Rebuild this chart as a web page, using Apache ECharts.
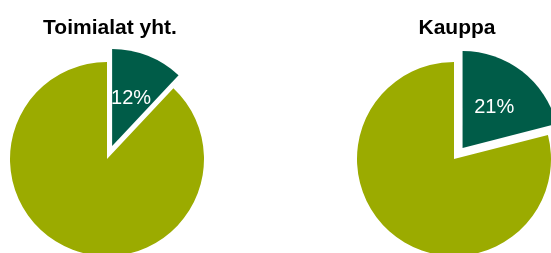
<!DOCTYPE html>
<html>
<head>
<meta charset="utf-8">
<script src="https://cdn.jsdelivr.net/npm/echarts@6/dist/echarts.min.js"></script>
<style>
  html, body { margin: 0; padding: 0; background: #fff; }
  #chart { width: 551px; height: 253px; }
</style>
</head>
<body>
<div id="chart"></div>
<script>
var titles = ["Toimialat yht.", "Kauppa"];
var shares = [12, 21];
var rest = [88, 79];

var darkGreen = "#005c48";
var olive = "#9bab00";
var centers = [[107, 159], [454, 159]];
var titleX = [105, 452];

var chart = echarts.init(document.getElementById("chart"));

var series = titles.map(function (t, i) {
  return {
    type: "pie",
    center: centers[i],
    radius: 97,
    startAngle: 90,
    clockwise: true,
    selectedMode: "single",
    selectedOffset: 14,
    animation: false,
    silent: true,
    label: {
      position: "inside",
      formatter: "{c}%",
      color: "#fff",
      fontSize: 20,
      fontFamily: "Liberation Sans, Arial, sans-serif"
    },
    labelLine: { show: false },
    data: [
      { value: shares[i], selected: true, itemStyle: { color: darkGreen } },
      { value: rest[i], itemStyle: { color: olive }, label: { show: false } }
    ]
  };
});

chart.setOption({
  animation: false,
  title: titles.map(function (t, i) {
    return {
      text: t,
      left: titleX[i],
      top: 13,
      textAlign: "center",
      textStyle: {
        fontSize: 21,
        fontWeight: "bold",
        color: "#000",
        fontFamily: "Liberation Sans, Arial, sans-serif"
      }
    };
  }),
  series: series
});
</script>
</body>
</html>
